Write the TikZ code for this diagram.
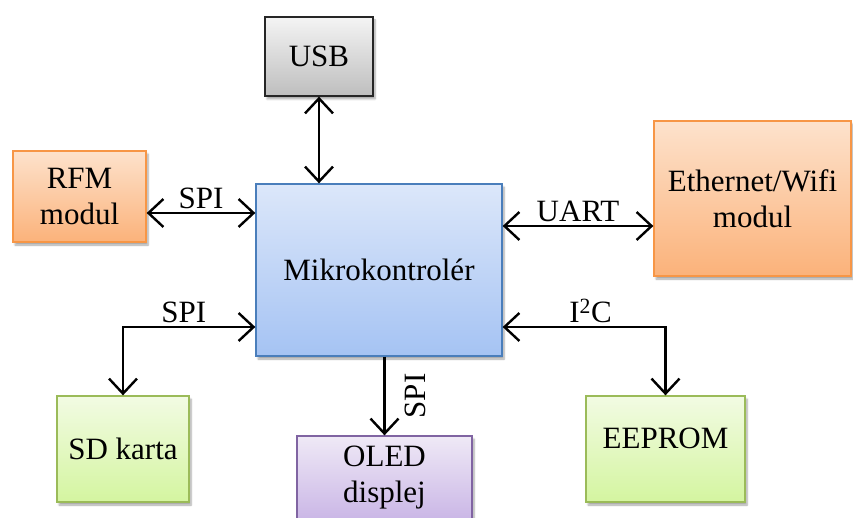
\documentclass[tikz,border=0pt]{standalone}
\usepackage{fontspec}
\setmainfont{Liberation Serif}
\usetikzlibrary{arrows.meta,calc,positioning,shadows.blur}
\definecolor{usbtop}{HTML}{F4F4F4}
\definecolor{usbbot}{HTML}{BEBEBE}
\definecolor{orgtop}{HTML}{FDE2CC}
\definecolor{orgbot}{HTML}{FBB27A}
\definecolor{orgline}{HTML}{F79646}
\definecolor{blutop}{HTML}{DCE7FA}
\definecolor{blubot}{HTML}{A5C3F3}
\definecolor{bluline}{HTML}{4A7EBB}
\definecolor{grntop}{HTML}{F2FBE3}
\definecolor{grnbot}{HTML}{D4F5A0}
\definecolor{grnline}{HTML}{9BBB59}
\definecolor{purtop}{HTML}{EFE9F6}
\definecolor{purbot}{HTML}{CAB6E6}
\definecolor{purline}{HTML}{8064A2}
\tikzset{
	barb/.tip={Straight Barb[length=15pt,width=28pt]},
	block/.style 2 args={
		draw, line width=1.3pt, minimum width=#1, minimum height=#2,
		align=center, inner sep=0pt,
		blur shadow={shadow xshift=2pt, shadow yshift=-3pt, shadow blur steps=6, shadow opacity=35}},
	usbbox/.style={draw=black!85, top color=usbtop, bottom color=usbbot},
	orgbox/.style={draw=orgline, top color=orgtop, bottom color=orgbot},
	blubox/.style={draw=bluline, top color=blutop, bottom color=blubot},
	grnbox/.style={draw=grnline, top color=grntop, bottom color=grnbot},
	purbox/.style={draw=purline, top color=purtop, bottom color=purbot},
	link/.style={line width=2.4pt},
	lbl/.style={inner sep=3pt}
}

\begin{document}
\begin{tikzpicture}[x=1pt, y=-1pt, font=\fontsize{31}{36}\selectfont]
	\useasboundingbox (0,0) rectangle (853,518);
	% blocks
	\node[block={108}{79}, usbbox] (usb) at (319,56.5) {USB};
	\node[block={246}{172}, blubox] (mcu) at (379,270) {Mikrokontrolér};
	\node[block={133}{91}, orgbox] (rfm) at (79.5,196.5) {RFM\\modul};
	\node[block={197}{155}, orgbox] (eth) at (752.5,198.5) {Ethernet/Wifi\\modul};
	\node[block={132}{106}, grnbox] (sd) at (123,449) {SD karta};
	\node[block={175}{84}, purbox] (oled) at (384.5,478) {OLED\\displej};
	\node[block={159}{106}, grnbox, text depth=22pt] (eeprom) at (665.5,449) {EEPROM};
	% ports
	\coordinate (rfmP) at ([yshift=-16.5pt]rfm.east);
	\coordinate (ethP) at ([yshift=-27.5pt]eth.west);
	\coordinate (sdP) at ([yshift=-57pt]mcu.west);
	\coordinate (eeP) at ([yshift=-57pt]mcu.east);
	% buses
	\draw[link, barb-barb] (usb.south) -- (usb.south |- mcu.north);
	\draw[link, barb-barb] (rfmP) -- (rfmP -| mcu.west) node[lbl, midway, above] (spiRfm) {SPI};
	\draw[link, barb-barb] (ethP -| mcu.east) -- (ethP) node[lbl, midway, above] (uart) {UART};
	\draw[link, barb-barb] (sdP) -| (sd.north) node[lbl, pos=0.27, above] (spiSd) {SPI};
	\draw[link, barb-barb] (eeP) -| (eeprom.north) node[lbl, pos=0.27, above] (i2c) {I\textsuperscript{2}C};
	\draw[link, -barb] (oled.north |- mcu.south) -- (oled.north) node[midway, xshift=31pt, rotate=90] (spiOled) {SPI};
\end{tikzpicture}
\end{document}
